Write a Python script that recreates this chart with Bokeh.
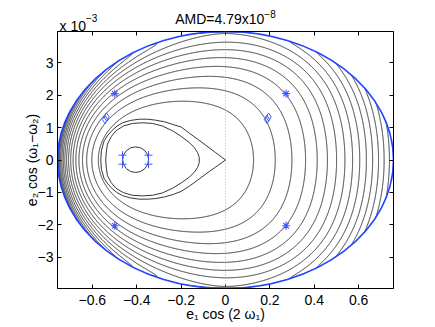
import numpy as np
from bokeh.plotting import figure
from bokeh.layouts import column
from bokeh.models import Range1d, LinearAxis, FixedTicker, Span
from bokeh.core.properties import value
from bokeh.embed import file_html
from bokeh.resources import INLINE

# ---------------- data ----------------
AX = 0.757      # AMD boundary, semi-axis in e1 cos(2 w1)
AY = 3.97       # AMD boundary, semi-axis in e2 cos(w1-w2)  (x 1e-3)

# contour crossings of the line y = 0 (levels 4..18)
right_x = [0.171, 0.251, 0.314, 0.367, 0.414, 0.457, 0.494, 0.532, 0.565,
           0.600, 0.630, 0.660, 0.690, 0.716, 0.743]
left_x = [-0.589, -0.608, -0.626, -0.643, -0.658, -0.672, -0.684, -0.695,
          -0.705, -0.714, -0.722, -0.730, -0.737, -0.744, -0.750]
side_levels = list(range(4, 19))
# contour crossings of the line x = 0 (levels 4..10)
top_y = [1.48, 2.11, 2.54, 2.93, 3.24, 3.50, 3.74]
bottom_y = [-1.41, -2.07, -2.54, -2.89, -3.18, -3.44, -3.69]
vert_levels = list(range(4, 11))
l4_x, l4_y = [-0.20, -0.20, 0.05, 0.05], [1.67, -1.67, 1.42, -1.42]
l5_x, l5_y = [-0.20, -0.20], [2.05, -2.05]
# level reached on the AMD boundary at a few polar angles
boundary_deg = [0, 30, 60, 90, 120, 150, 180]
boundary_level = [18.6, 16.5, 13.0, 11.2, 13.0, 17.0, 22.0]
field_levels = list(range(4, 22))

# small closed curve round the stable point
circle_cx, circle_cy, circle_w, circle_h = -0.405, 0.01, 0.117, 0.79
# inner closed curve
inner_x = [-0.540, -0.537, -0.532, -0.515, -0.494, -0.460, -0.419, -0.375, -0.329, -0.285,
           -0.238, -0.200, -0.163, -0.140, -0.126, -0.119, -0.118,
           -0.119, -0.126, -0.140, -0.163, -0.200, -0.238, -0.285, -0.329, -0.375,
           -0.419, -0.460, -0.494, -0.515, -0.532, -0.537, -0.540]
inner_y = [0.00, 0.25, 0.49, 0.72, 0.90, 1.05, 1.13, 1.15, 1.13, 1.05,
           0.90, 0.73, 0.54, 0.38, 0.23, 0.10, 0.00,
           -0.10, -0.23, -0.37, -0.53, -0.71, -0.87, -1.02, -1.09, -1.11,
           -1.09, -1.01, -0.87, -0.70, -0.48, -0.25, 0.00]
# curve through the cusp at the origin
tear_x = [-0.562, -0.559, -0.547, -0.530, -0.510, -0.488, -0.464, -0.430, -0.389, -0.350,
          -0.314, -0.275, -0.238, -0.200, -0.163, -0.125, -0.088, -0.045, 0.000,
          -0.045, -0.088, -0.125, -0.163, -0.200, -0.238, -0.275, -0.314, -0.350,
          -0.389, -0.430, -0.464, -0.488, -0.510, -0.530, -0.547, -0.559, -0.562]
tear_y = [0.00, 0.30, 0.59, 0.77, 0.92, 1.05, 1.15, 1.22, 1.26, 1.26,
          1.23, 1.18, 1.10, 1.02, 0.83, 0.64, 0.45, 0.23, 0.00,
          -0.22, -0.43, -0.62, -0.81, -0.97, -1.07, -1.14, -1.19, -1.21,
          -1.21, -1.17, -1.10, -1.01, -0.89, -0.74, -0.57, -0.29, 0.00]

# markers
star_x = [-0.499, -0.499, 0.273, 0.273]
star_y = [2.05, -2.03, 2.05, -2.03]
diam_x = [-0.543, -0.536, 0.187, 0.194]
diam_y = [1.25, 1.33, 1.25, 1.33]
plus_x = [-0.464, -0.464, -0.347, -0.347]
plus_y = [0.15, -0.13, 0.15, -0.13]

xticks = [-0.6, -0.4, -0.2, 0.0, 0.2, 0.4, 0.6]
xtick_labels = ["\u22120.6", "\u22120.4", "\u22120.2", "0", "0.2", "0.4", "0.6"]
yticks = [-3, -2, -1, 0, 1, 2, 3]
ytick_labels = ["\u22123", "\u22122", "\u22121", "0", "1", "2", "3"]

# ---------------- smooth field through the read crossings ----------------
pts = []
def add(xs, ys, lv, w=1.0):
    lv = lv if isinstance(lv, (list, tuple)) else [lv] * len(xs)
    for a, b, c in zip(xs, ys, lv):
        pts.append((a, b, c, w))

add(right_x, [0.0] * len(right_x), side_levels)
add(left_x, [0.0] * len(left_x), side_levels)
add([0.0] * len(top_y), top_y, vert_levels)
add([0.0] * len(bottom_y), bottom_y, vert_levels)
add(l4_x, l4_y, 4.0)
add(l5_x, l5_y, 5.0)
add(tear_x[::3], tear_y[::3], 3.0, 0.5)
add([circle_cx], [circle_cy], 1.0, 0.5)
for d, lv in zip(boundary_deg, boundary_level):
    a = np.deg2rad(d)
    add([AX * np.cos(a)] * 2, [AY * np.sin(a), -AY * np.sin(a)], lv, 0.7)


def basis(u, v):
    s = np.sqrt(np.clip(1.0 - u * u - v * v, 0.0, None))
    w = ((1.0 - u) / 2.0) ** 3
    return np.stack([np.ones_like(u), u, u ** 2, u ** 3, u ** 4, v ** 2, u * v ** 2,
                     u ** 2 * v ** 2, v ** 4, s * w, s * w * u], axis=-1)


P = np.array(pts, dtype=float)
pu, pv, pl, pw = P[:, 0] / AX, P[:, 1] / AY, P[:, 2], P[:, 3]
A = basis(pu, pv) * pw[:, None]
COEF = np.linalg.solve(A.T @ A + 1e-5 * np.eye(A.shape[1]), A.T @ (pl * pw))

gx = np.linspace(-AX, AX, 760)
gy = np.linspace(-AY, AY, 600)
GU, GV = np.meshgrid(gx / AX, gy / AY)
Z = basis(GU, GV) @ COEF

# ---------------- figures ----------------
FONT = "Liberation Sans"
LINE = "#202020"
BLUE = "#2244ff"
MARK = "#3a5bff"
W = 435
BL, BR = 57, 42
TOPH = 31
MAINH = 296

p = figure(width=W, height=MAINH, x_range=Range1d(-AX, AX), y_range=Range1d(-AY, AY),
           output_backend="svg", toolbar_location=None,
           min_border_left=BL, min_border_right=BR, min_border_top=0, min_border_bottom=39)
p.grid.visible = False
p.outline_line_color = "black"

p.contour(x=gx, y=gy, z=Z, levels=field_levels, line_color=LINE, line_width=0.9)

# white outside the AMD ellipse
th = np.linspace(0, 2 * np.pi, 721)
hole_x = list(AX * np.cos(th))
hole_y = list(AY * np.sin(th))
ox = [-2 * AX, 2 * AX, 2 * AX, -2 * AX]
oy = [-2 * AY, -2 * AY, 2 * AY, 2 * AY]
p.multi_polygons(xs=[[[ox, hole_x]]], ys=[[[oy, hole_y]]], fill_color="white", line_color=None)

p.ellipse(x=[circle_cx], y=[circle_cy], width=[circle_w], height=[circle_h],
          fill_color=None, line_color=LINE, line_width=0.9)
p.line(inner_x, inner_y, line_color=LINE, line_width=0.9)
p.line(tear_x, tear_y, line_color=LINE, line_width=0.9)

p.add_layout(Span(location=0, dimension="height", line_color="#a9a9ff", line_dash="1 2", line_width=1))
p.ellipse(x=[0], y=[0], width=[2 * AX], height=[2 * AY], fill_color=None,
          line_color=BLUE, line_width=1.6)

p.scatter(star_x, star_y, marker="asterisk", size=8, line_color=MARK, line_width=1.1)
p.scatter(diam_x, diam_y, marker="diamond", size=8, fill_color=None, line_color=MARK, line_width=1)
p.scatter(plus_x, plus_y, marker="cross", size=8, line_color=MARK, line_width=1)


def style_axis(ax, ticks, labels, show):
    ax.ticker = FixedTicker(ticks=ticks)
    ax.major_tick_in = 4
    ax.major_tick_out = 0
    ax.minor_tick_line_color = None
    ax.axis_line_color = "black"
    ax.major_tick_line_color = "black"
    ax.major_label_text_font = FONT
    ax.major_label_text_color = "black"
    ax.major_label_text_line_height = 1.0
    ax.axis_label_text_font = FONT
    ax.axis_label_text_font_style = "normal"
    ax.axis_label_text_font_size = "14px"
    ax.axis_label_text_color = "black"
    ax.axis_label_text_line_height = 1.0
    if show:
        ax.major_label_overrides = dict(zip(ticks, labels))
        ax.major_label_text_font_size = "14px"
    else:
        ax.major_label_overrides = {t: "" for t in ticks}
        ax.major_label_text_font_size = "0px"
        ax.major_label_standoff = 0


style_axis(p.xaxis[0], xticks, xtick_labels, True)
p.xaxis[0].major_label_standoff = 6
p.xaxis[0].axis_label = "e\u2081 cos (2 \u03c9\u2081)"
p.xaxis[0].axis_label_standoff = -2
style_axis(p.yaxis[0], yticks, ytick_labels, True)
p.yaxis[0].major_label_standoff = 4
p.yaxis[0].axis_label = "e\u2082 cos (\u03c9\u2081\u2212\u03c9\u2082)"
p.yaxis[0].axis_label_standoff = -5
top_ax = LinearAxis()
style_axis(top_ax, xticks, xtick_labels, False)
p.add_layout(top_ax, "above")
right_ax = LinearAxis()
style_axis(right_ax, yticks, ytick_labels, False)
p.add_layout(right_ax, "right")

# strip above the frame: title and exponent of the y axis (same x scale as the plot)
WID = {' ': 0.278, '(': 0.333, ')': 0.333, '.': 0.278, '=': 0.584, 'A': 0.667, 'D': 0.722,
       'M': 0.833, 'x': 0.5, '\u2212': 0.584}

def tw(txt, size):
    return sum(WID.get(ch, 0.556) for ch in txt) * size

t = figure(width=W, height=TOPH, x_range=p.x_range, y_range=Range1d(0, TOPH),
           output_backend="svg", toolbar_location=None, x_axis_location=None,
           y_axis_location=None, min_border_left=BL, min_border_right=BR,
           min_border_top=0, min_border_bottom=0)
t.grid.visible = False
t.outline_line_color = None

def put(x, y, txt, size, xoff):
    t.text(x=[x], y=[y], text=[txt], x_offset=xoff, text_font=value(FONT),
           text_font_size=value(f"{size}px"), text_baseline="alphabetic",
           text_align="left", text_color="black")

title_main, title_sup = "AMD=4.79x10", "\u22128"
half = (tw(title_main, 14) + tw(title_sup, 10)) / 2
put(0.0, 12.7, title_main, 14, -half)
put(0.0, 17.7, title_sup, 10, -half + tw(title_main, 14))
exp_main, exp_sup = "x 10", "\u22123"
put(-AX, 5.5, exp_main, 14, 2)
put(-AX, 13.5, exp_sup, 10, 2 + tw(exp_main, 14))

layout = column(t, p, spacing=0)
open("out.html", "w").write(file_html(layout, INLINE))
